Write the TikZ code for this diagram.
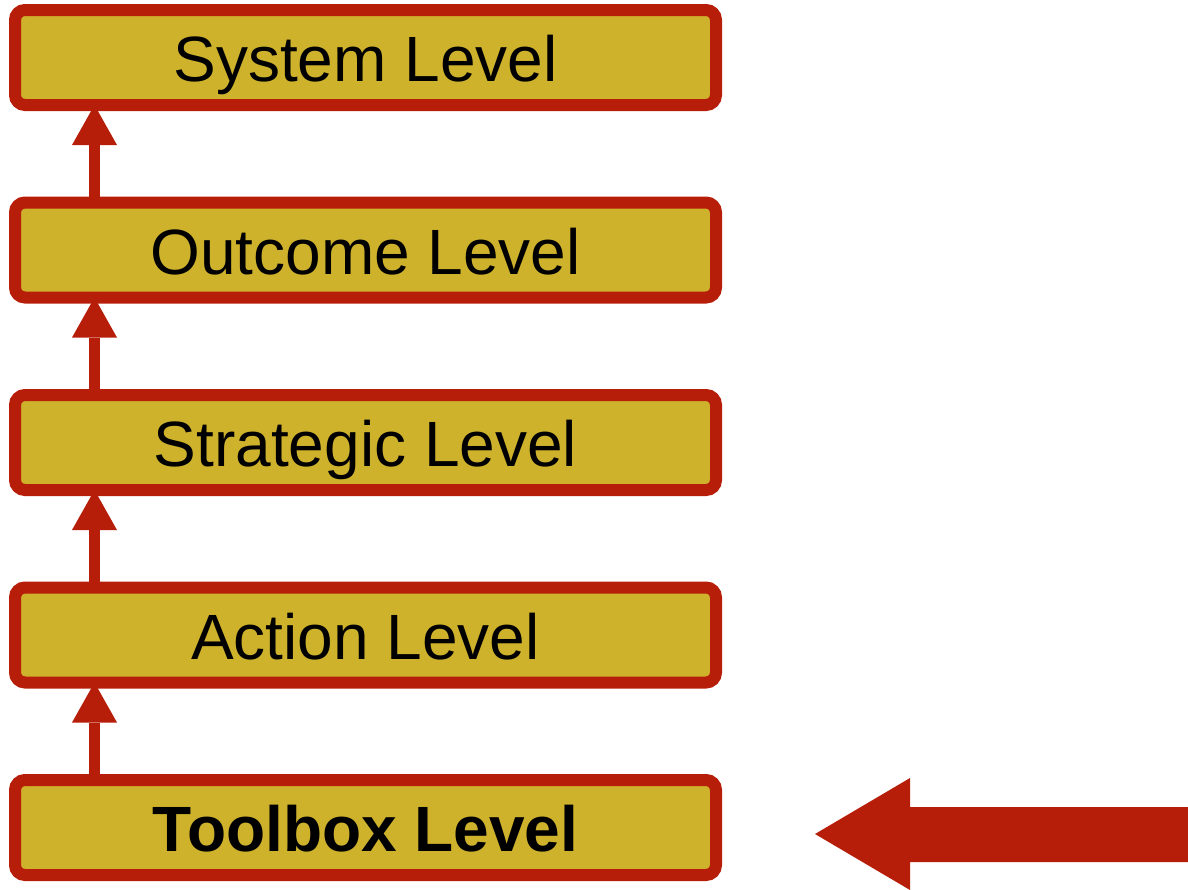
\documentclass[tikz,border=0pt]{standalone}
\usepackage{fontspec}
\setmainfont{Liberation Sans}
\usetikzlibrary{arrows.meta}
\definecolor{boxfill}{RGB}{207,178,43}
\definecolor{boxred}{RGB}{183,30,10}
\tikzset{
  level/.style={draw=boxred, fill=boxfill, line width=12pt, rounded corners=10pt,
    minimum width=701pt, minimum height=95pt, inner sep=0pt,
    text height=48pt, text depth=0pt,
    font=\fontsize{64pt}{70pt}\selectfont, text=black},
  up/.style={draw=boxred, line width=11pt, shorten >=-6pt,
    -{Triangle[length=40pt,width=45pt,line width=0pt]}, boxred}
}
\begin{document}
\begin{tikzpicture}[x=1pt,y=-1pt]
\useasboundingbox (0,0) rectangle (1188,889);
\clip (0,0) rectangle (1188,889);
\node[level] (sys) at (365.5,57.5) {System Level};
\node[level] (out) at (365.5,250) {Outcome Level};
\node[level] (str) at (365.5,442.5) {Strategic Level};
\node[level] (act) at (365.5,635) {Action Level};
\node[level, font=\fontsize{64pt}{70pt}\selectfont\bfseries] (tool) at (365.5,827.5) {Toolbox Level};
\draw[up] ([xshift=-271pt]tool.north) -- ([xshift=-271pt]act.south);
\draw[up] ([xshift=-271pt]act.north) -- ([xshift=-271pt]str.south);
\draw[up] ([xshift=-271pt]str.north) -- ([xshift=-271pt]out.south);
\draw[up] ([xshift=-271pt]out.north) -- ([xshift=-271pt]sys.south);
\fill[boxred] (1188,807) -- (910,807) -- (910,778) -- (815,834) -- (910,890) -- (910,862) -- (1188,862) -- cycle;
\end{tikzpicture}
\end{document}
